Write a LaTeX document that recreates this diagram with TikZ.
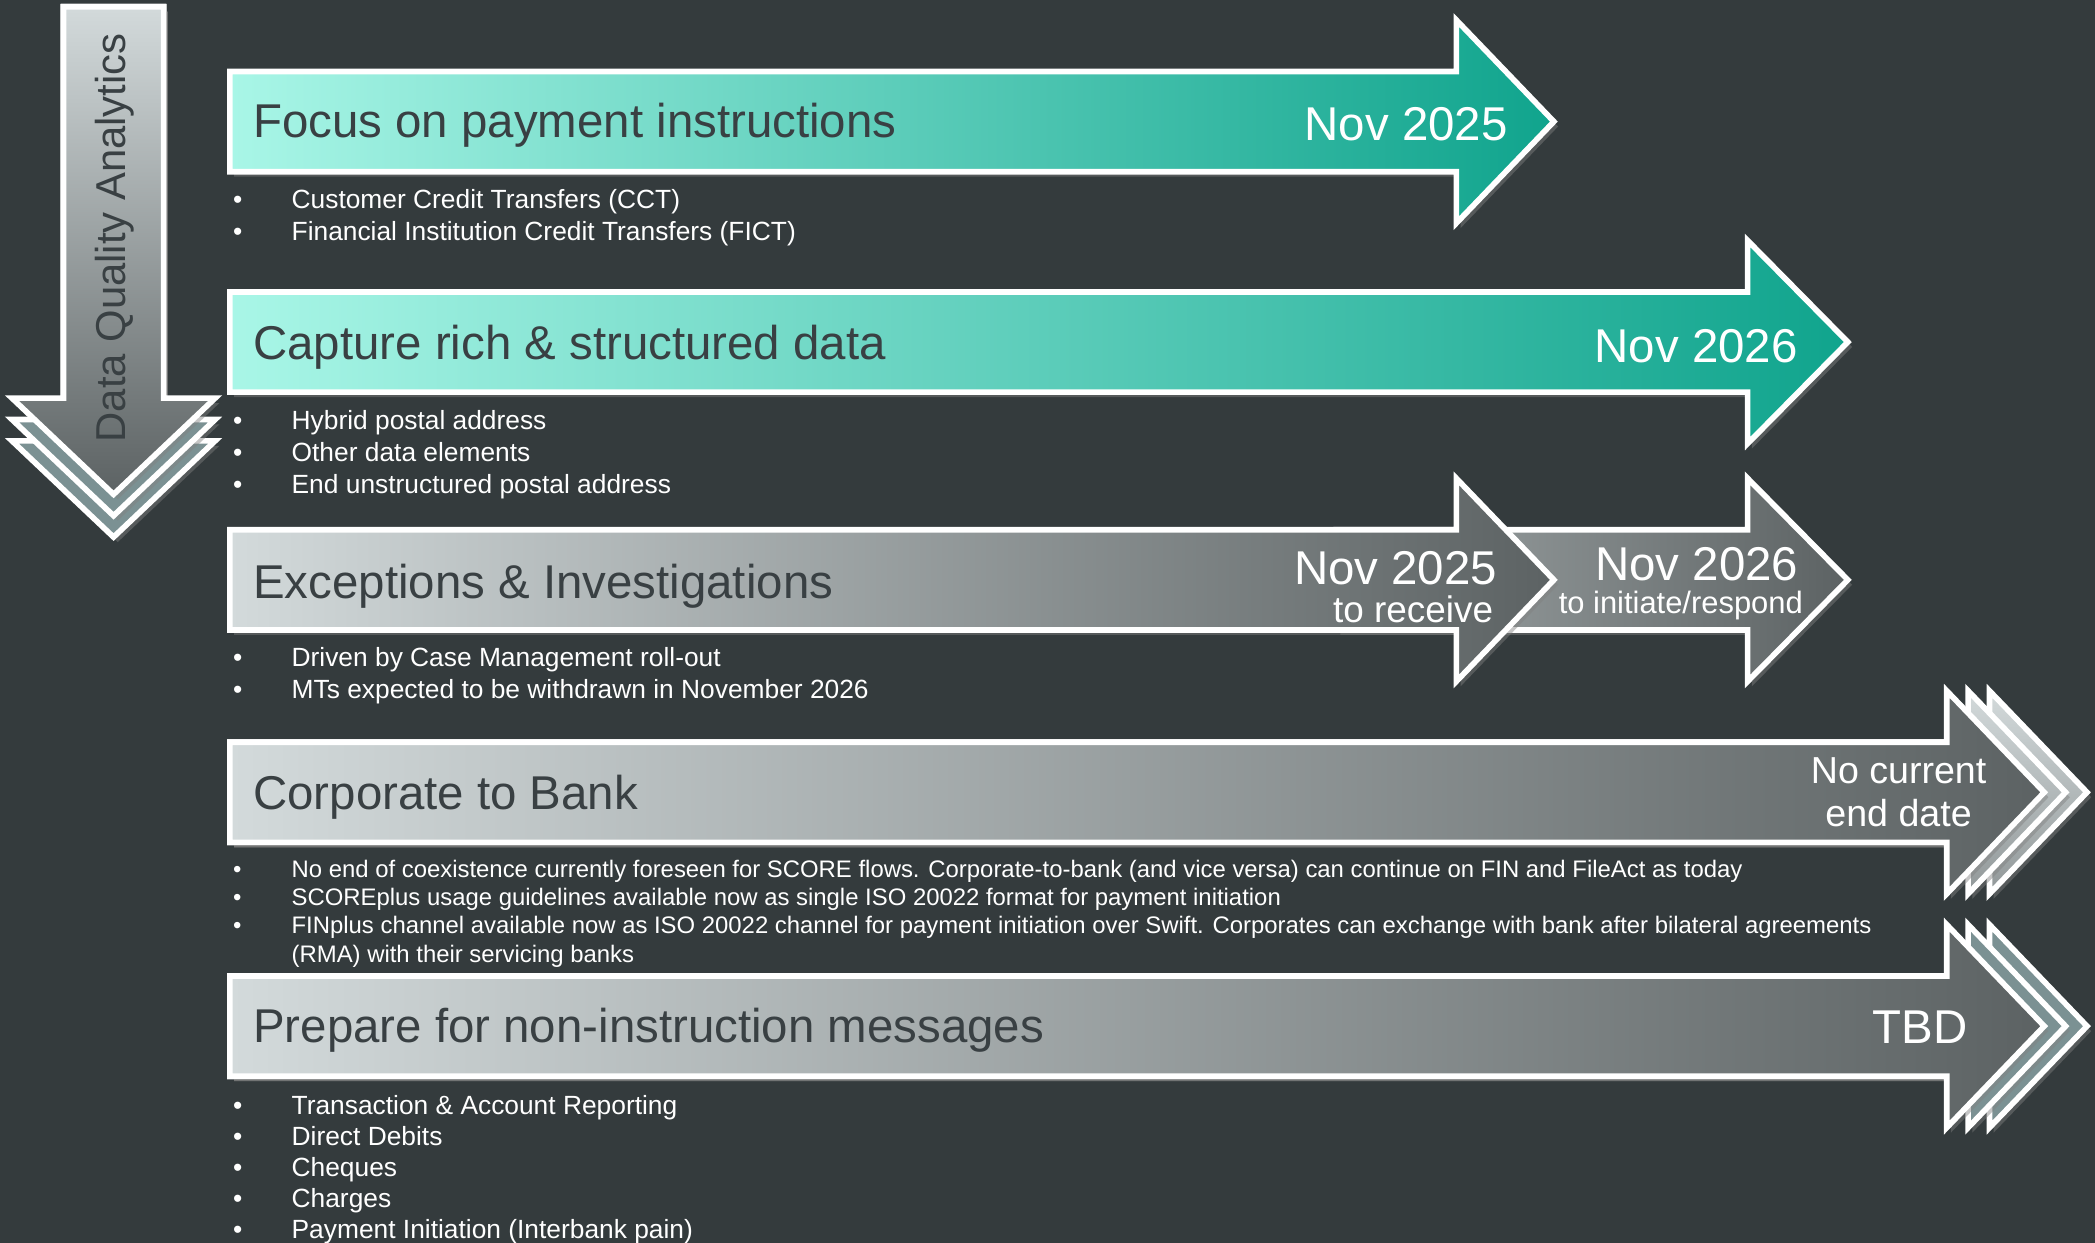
\documentclass[tikz,border=0pt]{standalone}
\usepackage{fontspec}
\setmainfont{Liberation Sans}
\usetikzlibrary{shadows}

\definecolor{slate}{HTML}{343B3D}
\definecolor{ink}{HTML}{394043}
\definecolor{tealL}{HTML}{A9F6E7}
\definecolor{tealR}{HTML}{10A48D}
\definecolor{greyL}{HTML}{D3DADB}
\definecolor{greyR}{HTML}{5C6263}
\definecolor{chev}{HTML}{7B9193}

% right arrow: left x, centre y, head base x, tip x
\newcommand{\rarrow}[4]{(#1,#2-37.5) -- (#3,#2-37.5) -- (#3,#2-76) -- (#4,#2)
  -- (#3,#2+76) -- (#3,#2+37.5) -- (#1,#2+37.5) -- cycle}
% down arrow: centre x, top y, head base y, tip y
\newcommand{\darrow}[4]{(#1-37.5,#2) -- (#1+37.5,#2) -- (#1+37.5,#3) -- (#1+76,#3)
  -- (#1,#4) -- (#1-76,#3) -- (#1-37.5,#3) -- cycle}
\newcommand{\itm}{\makebox[0.585cm][l]{\textbullet}}

\begin{document}
\begin{tikzpicture}[x=0.01336cm, y=-0.01336cm,
    band/.style={draw=white, line width=1.6pt,
      drop shadow={shadow xshift=1.2pt, shadow yshift=-1.4pt, opacity=0.45}},
    teal band/.style={band, left color=tealL, middle color=tealL!78!tealR, right color=tealR},
    grey band/.style={band, left color=greyL, right color=greyR},
    pale band/.style={band, top color=greyL, bottom color=greyL!45!greyR},
    title/.style={anchor=west, inner sep=0pt, text=ink, font=\fontsize{13.5}{16}\selectfont},
    date/.style={anchor=east, inner sep=0pt, text=white, font=\fontsize{13.5}{16}\selectfont},
    note/.style={inner sep=0pt, text=white, font=\fontsize{10.5}{12.2}\selectfont},
    items/.style={anchor=base west, align=left, inner sep=0pt, text=white,
      font=\fontsize{7.5}{9.1}\selectfont}]
  \fill[slate] (0,0) rectangle (1568,930);
  \useasboundingbox (0,0) rectangle (1568,930);

  % data quality, running down the side
  \filldraw[band, fill=chev] \darrow{85}{5}{330}{402};
  \filldraw[band, fill=chev] \darrow{85}{5}{314}{386};
  \shadedraw[band, top color=greyL, bottom color=greyR] \darrow{85}{5}{298}{370};
  \node[rotate=90, text=ink, font=\fontsize{11.9}{14}\selectfont] (dqa) at (86,178) {Data Quality Analytics};

  % payment instructions
  \shadedraw[teal band] \rarrow{172}{91}{1090}{1163};
  \node[title] (focus) at (189,94) {Focus on payment instructions};
  \node[date] (focus-date) at (1129,93) {Nov 2025};
  \node[items] (focus-list) at (174,180) {\itm Customer Credit Transfers (CCT)\\
    \itm Financial Institution Credit Transfers (FICT)};

  % structured data
  \shadedraw[teal band] \rarrow{172}{256}{1308}{1383};
  \node[title] (capture) at (189,260) {Capture rich \& structured data};
  \node[date] (capture-date) at (1346,259) {Nov 2026};
  \node[items] (capture-list) at (174,369) {\itm Hybrid postal address\\
    \itm Other data elements\\
    \itm End unstructured postal address};

  % exceptions, two steps
  \shadedraw[band, left color=greyL!60!greyR, right color=greyR] \rarrow{1000}{434}{1308}{1383};
  \shadedraw[grey band] \rarrow{172}{434}{1090}{1163};
  \node[title] (excinv) at (189,439) {Exceptions \& Investigations};
  \node[date] (rcv-date) at (1121,425) {Nov 2025};
  \node[note, anchor=east] (rcv) at (1118,456) {to receive};
  \node[date, anchor=center] (rsp-date) at (1270,422) {Nov 2026};
  \node[note, anchor=center, font=\fontsize{8.8}{10}\selectfont] (rsp) at (1258,453) {to initiate/respond};
  \node[items] (excinv-list) at (174,523) {\itm Driven by Case Management roll-out\\
    \itm MTs expected to be withdrawn in November 2026};

  % corporate to bank
  \shadedraw[pale band] \rarrow{172}{593}{1489}{1562};
  \shadedraw[pale band] \rarrow{172}{593}{1473}{1546};
  \shadedraw[grey band] \rarrow{172}{593}{1457}{1530};
  \node[title] (c2b) at (189,597) {Corporate to Bank};
  \node[note, align=center, font=\fontsize{10.7}{12.2}\selectfont] (c2b-date) at (1421,593) {No current\\ end date};
  \node[items, font=\fontsize{6.8}{8}\selectfont] (c2b-list) at (174,720) {\itm No end of coexistence currently foreseen for SCORE flows. Corporate-to-bank (and vice versa) can continue on FIN and FileAct as today\\
    \itm SCOREplus usage guidelines available now as single ISO 20022 format for payment initiation\\
    \itm FINplus channel available now as ISO 20022 channel for payment initiation over Swift. Corporates can exchange with bank after bilateral agreements\\
    \hspace*{0.585cm}(RMA) with their servicing banks};

  % non-instruction messages
  \filldraw[band, fill=chev] \rarrow{172}{768}{1489}{1562};
  \filldraw[band, fill=chev] \rarrow{172}{768}{1473}{1546};
  \shadedraw[grey band] \rarrow{172}{768}{1457}{1530};
  \node[title] (nonins) at (189,771) {Prepare for non-instruction messages};
  \node[date] (nonins-date) at (1473,769) {TBD};
  \node[items, font=\fontsize{7.5}{8.8}\selectfont] (nonins-list) at (174,927) {\itm Transaction \& Account Reporting\\
    \itm Direct Debits\\
    \itm Cheques\\
    \itm Charges\\
    \itm Payment Initiation (Interbank pain)};
\end{tikzpicture}
\end{document}
